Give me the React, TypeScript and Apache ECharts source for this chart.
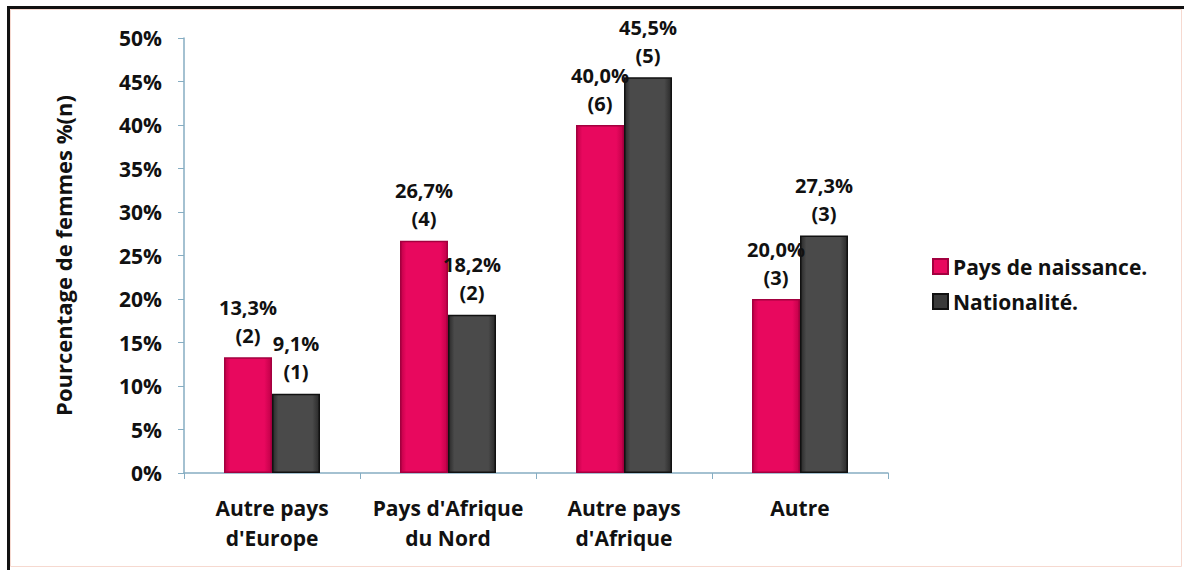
import React, { useEffect, useRef } from "react";
import * as echarts from "echarts";

const categories = ["Autre pays\nd'Europe", "Pays d'Afrique\ndu Nord", "Autre pays\nd'Afrique", "Autre"];
const seriesNames = ["Pays de naissance.", "Nationalité."];
const naissanceValues = [13.3, 26.7, 40.0, 20.0];
const naissanceCounts = [2, 4, 6, 3];
const nationaliteValues = [9.1, 18.2, 45.5, 27.3];
const nationaliteCounts = [1, 2, 5, 3];
const yTicks = { min: 0, max: 50, interval: 5 };
const yAxisName = "Pourcentage de femmes %(n)";

const FONT = "'Open Sans', sans-serif";

const fmt = (v: number) => v.toFixed(1).replace(".", ",") + "%";

const grad = (edge: string, mid: string) =>
  new echarts.graphic.LinearGradient(0, 0, 1, 0, [
    { offset: 0, color: edge },
    { offset: 0.12, color: mid },
    { offset: 0.85, color: mid },
    { offset: 1, color: edge },
  ]);

export default function App() {
  const ref = useRef<HTMLDivElement>(null);
  useEffect(() => {
    if (!ref.current) return;
    const chart = echarts.init(ref.current, null, { renderer: "svg" });
    const label = (counts: number[]) => ({
      show: true,
      position: "top",
      distance: 8,
      fontFamily: FONT,
      fontWeight: "bold",
      fontSize: 20,
      lineHeight: 28,
      color: "#111",
      formatter: (p: any) => `${fmt(p.value)}\n(${counts[p.dataIndex]})`,
    });
    chart.setOption({
      animation: false,
      backgroundColor: "#ffffff",
      textStyle: { fontFamily: FONT },
      grid: { left: 184, top: 38, right: 296, bottom: 97, containLabel: false },
      legend: {
        orient: "vertical",
        left: 927,
        top: 251,
        itemWidth: 15,
        itemHeight: 15,
        itemGap: 14,
        icon: "rect",
        textStyle: { fontFamily: FONT, fontWeight: "bold", fontSize: 21, color: "#111" },
        data: [
          { name: seriesNames[0], itemStyle: { color: "#e8085e" } },
          { name: seriesNames[1], itemStyle: { color: "#3a3a3a" } },
        ],
      },
      xAxis: {
        type: "category",
        data: categories,
        axisLine: { lineStyle: { color: "#86adc2", width: 1.5 } },
        axisTick: { show: true, length: 6, lineStyle: { color: "#86adc2" } },
        axisLabel: {
          margin: 20,
          fontFamily: FONT,
          fontWeight: "bold",
          fontSize: 21,
          lineHeight: 30,
          color: "#111",
          interval: 0,
        },
      },
      yAxis: {
        type: "value",
        min: yTicks.min,
        max: yTicks.max,
        interval: yTicks.interval,
        name: yAxisName,
        nameLocation: "middle",
        nameGap: 110,
        nameTextStyle: { fontFamily: FONT, fontWeight: "bold", fontSize: 22, color: "#111" },
        splitLine: { show: false },
        axisLine: { show: true, lineStyle: { color: "#86adc2", width: 1.5 } },
        axisTick: { show: true, length: 6, lineStyle: { color: "#86adc2" } },
        axisLabel: {
          margin: 22,
          formatter: "{value}%",
          fontFamily: FONT,
          fontWeight: "bold",
          fontSize: 21,
          color: "#111",
        },
      },
      series: [
        {
          name: seriesNames[0],
          type: "bar",
          data: naissanceValues,
          barWidth: 48,
          barGap: "0%",
          itemStyle: { color: grad("#c20049", "#e8085e"), borderColor: "#a3003f", borderWidth: 1.5 },
          label: label(naissanceCounts),
        },
        {
          name: seriesNames[1],
          type: "bar",
          data: nationaliteValues,
          barWidth: 48,
          barGap: "0%",
          itemStyle: { color: grad("#2a2a2a", "#4a4a4a"), borderColor: "#111111", borderWidth: 1.5 },
          label: label(nationaliteCounts),
        },
      ],
      graphic: [
        { type: "rect", shape: { x: 10.5, y: 9.5, width: 1171, height: 557 }, style: { fill: "none", stroke: "#f6d9d0", lineWidth: 1 } },
        { type: "rect", shape: { x: 7, y: 6, width: 1177, height: 3 }, style: { fill: "#111" } },
        { type: "rect", shape: { x: 7, y: 6, width: 3, height: 564 }, style: { fill: "#111" } },
      ],
    });
    return () => chart.dispose();
  }, []);
  return (
    <div
      ref={ref}
      style={{ position: "absolute", left: 0, top: 0, width: 1184, height: 570 }}
    />
  );
}
